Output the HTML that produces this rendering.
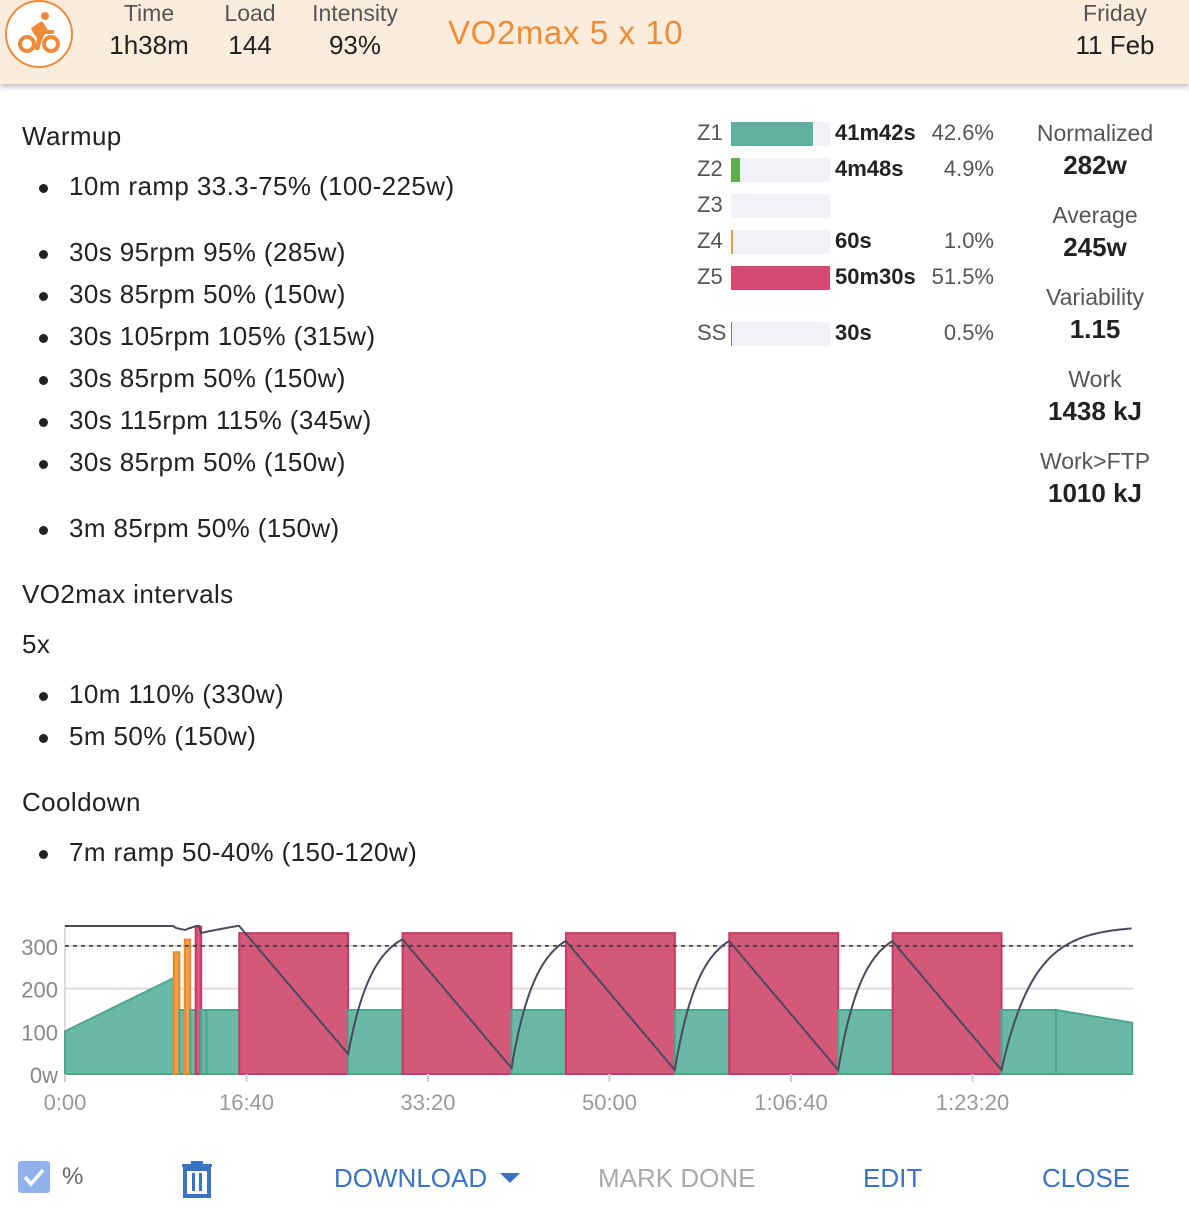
<!DOCTYPE html>
<html><head><meta charset="utf-8"><style>
*{margin:0;padding:0;box-sizing:border-box}
body{width:1189px;height:1225px;background:#fff;font-family:"Liberation Sans",Roboto,sans-serif;color:#222;position:relative;overflow:hidden}
.a{position:absolute;white-space:nowrap}
.hdr{position:absolute;left:0;top:0;width:1189px;height:84px;background:#fcecdc;box-shadow:0 3px 5px rgba(0,0,0,.25)}
.lbl{color:#555;font-size:23px;text-align:center}
.val{color:#222;font-size:26px;text-align:center}
.li{font-size:26px;color:#222;letter-spacing:0.4px}
.li:before{content:"";position:absolute;left:-30px;top:13px;width:9px;height:9px;border-radius:50%;background:#222}
.h{font-size:26px;color:#222;letter-spacing:0.4px}
.z{font-size:22px;color:#555}
.bar{position:absolute;left:731px;width:99px;height:24px;background:#f1f1f8}
.zt{font-size:22px;font-weight:bold;color:#222}
.zp{font-size:22px;color:#555;text-align:right;width:90px}
.sl{font-size:23px;color:#555;text-align:center;width:200px}
.sv{font-size:26px;color:#222;text-align:center;width:200px;font-weight:bold}
.btn{font-size:26px;color:#3a73c4}
</style></head><body>
<div class="hdr"></div>
<svg class="a" style="left:4px;top:0" width="70" height="68"><circle cx="35" cy="34" r="33" fill="#fff" stroke="#ee8a3a" stroke-width="2"/>
<g fill="none" stroke="#ee8a3a" stroke-width="4"><circle cx="23" cy="44" r="7"/><circle cx="47" cy="44" r="7"/></g>
<circle cx="41" cy="16" r="4" fill="#ee8a3a"/><path d="M27 28 L38 21 L44 30 L50 30 L50 34 L41 34 L38 40 L35 50 L31 50 L33 38 L29 33Z" fill="#ee8a3a"/></svg>
<div class="a lbl" style="left:100px;top:0;width:98px">Time</div>
<div class="a val" style="left:90px;top:30px;width:118px">1h38m</div>
<div class="a lbl" style="left:210px;top:0;width:80px">Load</div>
<div class="a val" style="left:210px;top:30px;width:80px">144</div>
<div class="a lbl" style="left:300px;top:0;width:110px">Intensity</div>
<div class="a val" style="left:300px;top:30px;width:110px">93%</div>
<div class="a" style="left:448px;top:14px;font-size:33px;color:#ef8c36;letter-spacing:0.6px">VO2max 5 x 10</div>
<div class="a lbl" style="left:1040px;top:0;width:150px">Friday</div>
<div class="a val" style="left:1040px;top:30px;width:150px">11 Feb</div>

<div class="a h" style="left:22px;top:121px">Warmup</div>
<div class="a li" style="left:69px;top:171px">10m ramp 33.3-75% (100-225w)</div>
<div class="a li" style="left:69px;top:237px">30s 95rpm 95% (285w)</div>
<div class="a li" style="left:69px;top:279px">30s 85rpm 50% (150w)</div>
<div class="a li" style="left:69px;top:321px">30s 105rpm 105% (315w)</div>
<div class="a li" style="left:69px;top:363px">30s 85rpm 50% (150w)</div>
<div class="a li" style="left:69px;top:405px">30s 115rpm 115% (345w)</div>
<div class="a li" style="left:69px;top:447px">30s 85rpm 50% (150w)</div>
<div class="a li" style="left:69px;top:513px">3m 85rpm 50% (150w)</div>
<div class="a h" style="left:22px;top:579px">VO2max intervals</div>
<div class="a h" style="left:22px;top:629px">5x</div>
<div class="a li" style="left:69px;top:679px">10m 110% (330w)</div>
<div class="a li" style="left:69px;top:721px">5m 50% (150w)</div>
<div class="a h" style="left:22px;top:787px">Cooldown</div>
<div class="a li" style="left:69px;top:837px">7m ramp 50-40% (150-120w)</div>

<div class="a z" style="left:697px;top:120px">Z1</div><div class="bar" style="top:122px"></div><div class="a" style="left:731px;top:122px;width:82px;height:24px;background:#5eb1a0"></div>
<div class="a zt" style="left:835px;top:120px">41m42s</div><div class="a zp" style="left:904px;top:120px">42.6%</div>
<div class="a z" style="left:697px;top:156px">Z2</div><div class="bar" style="top:158px"></div><div class="a" style="left:731px;top:158px;width:9px;height:24px;background:#5bb04a"></div>
<div class="a zt" style="left:835px;top:156px">4m48s</div><div class="a zp" style="left:904px;top:156px">4.9%</div>
<div class="a z" style="left:697px;top:192px">Z3</div><div class="bar" style="top:194px"></div>
<div class="a z" style="left:697px;top:228px">Z4</div><div class="bar" style="top:230px"></div><div class="a" style="left:731px;top:230px;width:2px;height:24px;background:#ef9a4a"></div>
<div class="a zt" style="left:835px;top:228px">60s</div><div class="a zp" style="left:904px;top:228px">1.0%</div>
<div class="a z" style="left:697px;top:264px">Z5</div><div class="a" style="left:731px;top:266px;width:99px;height:24px;background:#d44a72"></div>
<div class="a zt" style="left:835px;top:264px">50m30s</div><div class="a zp" style="left:904px;top:264px">51.5%</div>
<div class="a z" style="left:697px;top:320px">SS</div><div class="bar" style="top:322px"></div><div class="a" style="left:731px;top:322px;width:1px;height:24px;background:#7a6ac0"></div>
<div class="a zt" style="left:835px;top:320px">30s</div><div class="a zp" style="left:904px;top:320px">0.5%</div>

<div class="a sl" style="left:995px;top:120px">Normalized</div><div class="a sv" style="left:995px;top:150px">282w</div>
<div class="a sl" style="left:995px;top:202px">Average</div><div class="a sv" style="left:995px;top:232px">245w</div>
<div class="a sl" style="left:995px;top:284px">Variability</div><div class="a sv" style="left:995px;top:314px">1.15</div>
<div class="a sl" style="left:995px;top:366px">Work</div><div class="a sv" style="left:995px;top:396px">1438 kJ</div>
<div class="a sl" style="left:995px;top:448px">Work&gt;FTP</div><div class="a sv" style="left:995px;top:478px">1010 kJ</div>

<svg id="ch" class="a" style="left:0;top:890px" width="1189" height="240"></svg>

<div class="a" style="left:18px;top:1161px;width:32px;height:32px;background:#8fb2ec;border-radius:3px"></div>
<svg class="a" style="left:18px;top:1161px" width="32" height="32"><path d="M7 16 L13 23 L25 9" stroke="#fff" stroke-width="3.5" fill="none"/></svg>
<div class="a" style="left:62px;top:1163px;font-size:24px;color:#666">%</div>
<svg class="a" style="left:180px;top:1160px" width="34" height="38"><rect x="2" y="4" width="30" height="3" fill="#3a73c4"/><rect x="11" y="1" width="12" height="4" fill="#3a73c4"/><rect x="5" y="9" width="24" height="27" fill="none" stroke="#3a73c4" stroke-width="4"/><rect x="12" y="13" width="3" height="18" fill="#3a73c4"/><rect x="19" y="13" width="3" height="18" fill="#3a73c4"/></svg>
<div class="a btn" style="left:334px;top:1163px">DOWNLOAD</div>
<svg class="a" style="left:500px;top:1173px" width="22" height="12"><path d="M0 0 L20 0 L10 10Z" fill="#3a73c4"/></svg>
<div class="a btn" style="left:598px;top:1163px;color:#aaa">MARK DONE</div>
<div class="a btn" style="left:863px;top:1163px">EDIT</div>
<div class="a btn" style="left:1042px;top:1163px">CLOSE</div>

<script>
(function(){
var s=document.getElementById('ch'),o=890,h='';
function X(t){return 65+t*0.1815}
function Y(w){return 1074-o-0.427*w}
[[0,'0w'],[100,'100'],[200,'200'],[300,'300']].forEach(function(g){h+='<line x1="65" x2="1133" y1="'+Y(g[0])+'" y2="'+Y(g[0])+'" stroke="#ddd" stroke-width="2"/>';h+='<text x="58" y="'+(Y(g[0])+9)+'" font-size="22" fill="#888" text-anchor="end" font-family="Liberation Sans">'+g[1]+'</text>';});
h+='<line x1="65" x2="65" y1="'+(Y(350))+'" y2="'+Y(0)+'" stroke="#ddd" stroke-width="2"/>';
var G='#69b9a6',GS='#4ea58e',R='#d4587a',RS='#c83a64',Oc='#f0a04a',OS='#e88a2e';
function blk(t0,t1,w0,w1,f,st){h+='<polygon points="'+X(t0)+','+Y(0)+' '+X(t0)+','+Y(w0)+' '+X(t1)+','+Y(w1)+' '+X(t1)+','+Y(0)+'" fill="'+f+'" stroke="'+st+'" stroke-width="2"/>';}
blk(0,600,100,225,G,GS);
blk(600,630,285,285,Oc,OS);blk(630,660,150,150,G,GS);blk(660,690,315,315,Oc,OS);blk(690,720,150,150,G,GS);blk(720,750,345,345,R,RS);blk(750,780,150,150,G,GS);blk(780,960,150,150,G,GS);
for(var i=0;i<5;i++){var t=960+i*900;blk(t,t+600,330,330,R,RS);blk(t+600,t+900,150,150,G,GS);}
blk(5460,5880,150,120,G,GS);
h+='<line x1="65" x2="1133" y1="'+Y(300)+'" y2="'+Y(300)+'" stroke="#333" stroke-width="1.5" stroke-dasharray="4,4"/>';
var p=[[65,36],[173,36],[176,38],[185,40],[190,38],[196,36],[199,36],[201,43],[210,41],[237,36]];
var tp=36,lo=[164,178,180,180,180];
for(var i=0;i<5;i++){var t=960+i*900,x0=X(t),x1=X(t+600),x2=X(t+900);var y0=p[p.length-1][1];p.push([x0,y0]);p.push([x1,lo[i]]);
var end=(i==4)?X(5880):x2;for(var x=x1+2;x<=end;x+=2){p.push([x,tp+(lo[i]-tp)*Math.exp(-(x-x1)/(i==4?32:24))]);}}
h+='<polyline points="'+p.map(function(q){return q[0].toFixed(1)+','+q[1].toFixed(1)}).join(' ')+'" fill="none" stroke="#4a4a5e" stroke-width="2"/>';
[[0,'0:00'],[1000,'16:40'],[2000,'33:20'],[3000,'50:00'],[4000,'1:06:40'],[5000,'1:23:20']].forEach(function(g){h+='<line x1="'+X(g[0])+'" x2="'+X(g[0])+'" y1="'+Y(0)+'" y2="'+(Y(0)+8)+'" stroke="#ccc" stroke-width="2"/><text x="'+X(g[0])+'" y="'+(Y(0)+36)+'" font-size="22" fill="#999" text-anchor="middle" font-family="Liberation Sans">'+g[1]+'</text>';});
s.innerHTML=h;
})();
</script>
</body></html>
